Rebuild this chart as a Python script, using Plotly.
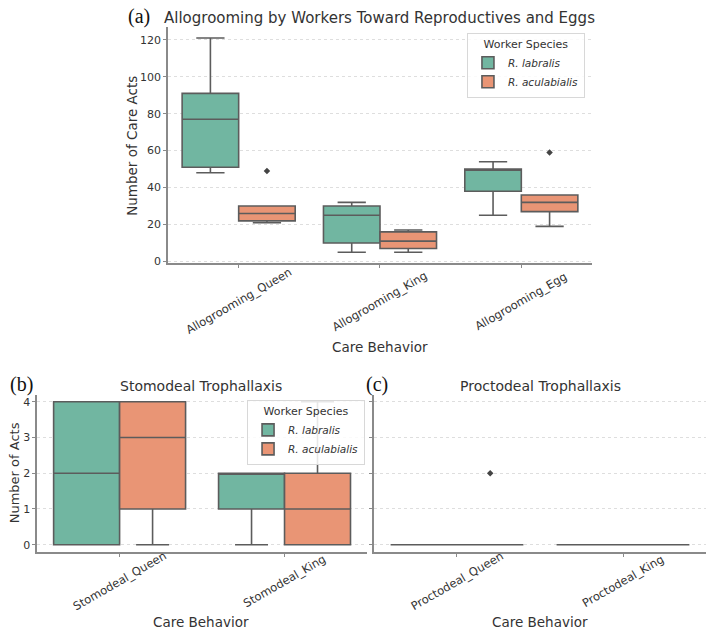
import plotly.graph_objects as go

# ---------------- data ----------------
species = ["R. labralis", "R. aculabialis"]
colors = ["#71b6a1", "#e99575"]

# Panel (a) Allogrooming
cats_a = ["Allogrooming_Queen", "Allogrooming_King", "Allogrooming_Egg"]
a_q1 = {"R. labralis": [51, 10, 38], "R. aculabialis": [22, 7, 27]}
a_med = {"R. labralis": [77, 25, 50], "R. aculabialis": [26, 11, 32]}
a_q3 = {"R. labralis": [91, 30, 50], "R. aculabialis": [30, 16, 36]}
a_lo = {"R. labralis": [48, 5, 25], "R. aculabialis": [21, 5, 19]}
a_hi = {"R. labralis": [121, 32, 54], "R. aculabialis": [30, 17, 36]}
a_out_cat = {"R. labralis": [], "R. aculabialis": [0, 2]}
a_out_val = {"R. labralis": [], "R. aculabialis": [49, 59]}

# Panel (b) Stomodeal
cats_b = ["Stomodeal_Queen", "Stomodeal_King"]
b_q1 = {"R. labralis": [0, 1], "R. aculabialis": [1, 0]}
b_med = {"R. labralis": [2, 2], "R. aculabialis": [3, 1]}
b_q3 = {"R. labralis": [4, 2], "R. aculabialis": [4, 2]}
b_lo = {"R. labralis": [0, 0], "R. aculabialis": [0, 0]}
b_hi = {"R. labralis": [4, 2], "R. aculabialis": [4, 4]}

# Panel (c) Proctodeal
cats_c = ["Proctodeal_Queen", "Proctodeal_King"]
c_q1 = {"R. labralis": [0, 0], "R. aculabialis": [0, 0]}
c_med = {"R. labralis": [0, 0], "R. aculabialis": [0, 0]}
c_q3 = {"R. labralis": [0, 0], "R. aculabialis": [0, 0]}
c_lo = {"R. labralis": [0, 0], "R. aculabialis": [0, 0]}
c_hi = {"R. labralis": [0, 0], "R. aculabialis": [0, 0]}
c_out_cat = {"R. labralis": [], "R. aculabialis": [0]}
c_out_val = {"R. labralis": [], "R. aculabialis": [2]}

a_yticks = [0, 20, 40, 60, 80, 100, 120]
b_yticks = [0, 1, 2, 3, 4]

# ---------------- style ----------------
FONT = "DejaVu Sans"
TXT = "#333333"
EDGE = "#5c5c5c"
SPINE = "#8a8a8a"
GRID = "#dedede"
offsets = [-0.2, 0.2]
BOXW = 0.4

fig = go.Figure()


def add_panel(xa, ya, cats, q1, med, q3, lo, hi, legend, show, out_cat=None, out_val=None):
    for si, sp in enumerate(species):
        xs = [i + offsets[si] for i in range(len(cats))]
        fig.add_trace(go.Box(
            x=xs, q1=q1[sp], median=med[sp], q3=q3[sp],
            lowerfence=lo[sp], upperfence=hi[sp],
            width=BOXW, whiskerwidth=0.5,
            fillcolor=colors[si], line=dict(color=EDGE, width=1.6),
            boxpoints=False, name=f"<i>{sp}</i>",
            xaxis=xa, yaxis=ya, legend=legend, showlegend=show,
        ))
        if out_cat and out_cat[sp]:
            fig.add_trace(go.Scatter(
                x=[c + offsets[si] for c in out_cat[sp]], y=out_val[sp],
                mode="markers", marker=dict(symbol="diamond", size=5, color="#444444"),
                xaxis=xa, yaxis=ya, showlegend=False, hoverinfo="y",
            ))


add_panel("x", "y", cats_a, a_q1, a_med, a_q3, a_lo, a_hi, "legend", True, a_out_cat, a_out_val)
add_panel("x2", "y2", cats_b, b_q1, b_med, b_q3, b_lo, b_hi, "legend2", True)
add_panel("x3", "y3", cats_c, c_q1, c_med, c_q3, c_lo, c_hi, "legend", False, c_out_cat, c_out_val)

tickfont = dict(family=FONT, size=11, color=TXT)
common_x = dict(showgrid=False, zeroline=False, showline=True, linecolor=SPINE, linewidth=1.6,
                ticks="outside", ticklen=3, tickcolor=SPINE, showticklabels=False)
common_y = dict(showgrid=True, gridcolor=GRID, griddash="dot", gridwidth=1, zeroline=False,
                showline=True, linecolor=SPINE, linewidth=1.6, ticks="outside", ticklen=3,
                tickcolor=SPINE, tickfont=tickfont)

legend_common = dict(xanchor="left", yanchor="top",
                     bgcolor="rgba(255,255,255,0.85)", bordercolor="#d8d8d8", borderwidth=1,
                     font=dict(family=FONT, size=10.5, color=TXT),
                     title=dict(text="Worker Species", side="top center", font=dict(family=FONT, size=11, color=TXT)),
                     tracegroupgap=0, itemwidth=30)

fig.update_layout(
    width=714, height=638, margin=dict(l=0, r=0, t=0, b=0),
    paper_bgcolor="white", plot_bgcolor="white",
    font=dict(family=FONT, color=TXT),
    xaxis=dict(domain=[0.2353, 0.8291], range=[-0.5, 2.5], tickvals=list(range(len(cats_a))), anchor="y", **common_x),
    yaxis=dict(domain=[0.5846, 0.957], range=[-0.8, 126.8], tickvals=a_yticks, anchor="x", **common_y),
    xaxis2=dict(domain=[0.052, 0.514], range=[-0.5, 1.5], tickvals=list(range(len(cats_b))), anchor="y2", **common_x),
    yaxis2=dict(domain=[0.1282, 0.3765], range=[-0.2, 4.2], tickvals=b_yticks, anchor="x2", **common_y),
    xaxis3=dict(domain=[0.5238, 0.9888], range=[-0.5, 1.5], tickvals=list(range(len(cats_c))), anchor="y3", **common_x),
    yaxis3=dict(domain=[0.1282, 0.3765], range=[-0.2, 4.2], tickvals=b_yticks, anchor="x3",
                **{**common_y, "showticklabels": False}),
    legend=dict(x=0.654, y=0.948, **legend_common),
    legend2=dict(x=0.346, y=0.368, **legend_common),
)


def txt(text, px, py, size, family=FONT, angle=0, color=TXT):
    return dict(text=text, x=px / 714, y=1 - py / 638, xref="paper", yref="paper",
                xanchor="center", yanchor="middle", textangle=angle, showarrow=False,
                font=dict(family=family, size=size, color=color))


ann = [
    txt("Allogrooming by Workers Toward Reproductives and Eggs", 379, 18, 15),
    txt("(a)", 139, 17, 20, family="Liberation Serif", color="#111111"),
    txt("Stomodeal Trophallaxis", 201, 389, 14),
    txt("(b)", 21, 388, 20, family="Liberation Serif", color="#111111"),
    txt("Proctodeal Trophallaxis", 540, 389, 14),
    txt("(c)", 377, 388, 20, family="Liberation Serif", color="#111111"),
    txt("Number of Care Acts", 132, 147, 13.5, angle=-90),
    txt("Number of Acts", 14, 477, 13, angle=-90),
    txt("Care Behavior", 380, 350, 13.5),
    txt("Care Behavior", 201, 627, 13.5),
    txt("Care Behavior", 540, 627, 13.5),
]
# rotated category labels (centre placed below the axis)
for xr, yr, cats, shift in [("x", "y domain", cats_a, -38), ("x2", "y2 domain", cats_b, -29),
                            ("x3", "y3 domain", cats_c, -29)]:
    for i, c in enumerate(cats):
        ann.append(dict(text=c, x=i, y=0, xref=xr, yref=yr, xanchor="center", yanchor="middle",
                        yshift=shift, textangle=-30, showarrow=False,
                        font=dict(family=FONT, size=11.5, color=TXT)))
fig.update_layout(annotations=ann)

fig.write_html("out.html")
